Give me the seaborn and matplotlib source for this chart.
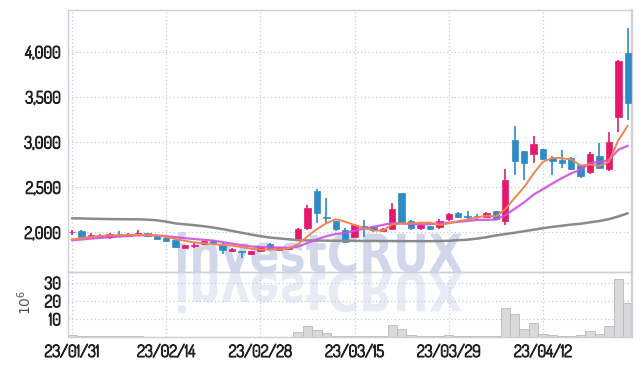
import numpy as np
import matplotlib
matplotlib.use("Agg")
import matplotlib.pyplot as plt
import matplotlib.patheffects as pe
import seaborn as sns
from matplotlib.textpath import TextPath
from matplotlib.patches import PathPatch
from matplotlib.font_manager import FontProperties, fontManager
from matplotlib.transforms import Affine2D
from matplotlib.ticker import FuncFormatter

# ---- data ----
tick_pos = [0, 10, 20, 30, 40, 50]
tick_labels = ["23/01/31", "23/02/14", "23/02/28", "23/03/15", "23/03/29", "23/04/12"]

opens = [1998, 2015, 1952, 1975, 1950, 1982, 1960, 1965, 1988, 1960,
         1942, 1910, 1828, 1850, 1865, 1905, 1875, 1788, 1795, 1755,
         1790, 1872, 1800, 1815, 1915, 2045, 2452, 2172, 2120, 2020,
         1950, 2075, 2060, 2010, 2040, 2430, 2130, 2050, 2070, 2055,
         2145, 2215, 2180, 2185, 2170, 2235, 2130, 3020, 2900, 2865,
         2920, 2825, 2800, 2820, 2745, 2670, 2845, 2700, 3280, 3990]
highs = [2030, 2022, 1990, 1980, 1990, 2018, 1992, 2028, 1990, 1965,
         1945, 1925, 1860, 1880, 1905, 1910, 1880, 1822, 1796, 1792,
         1842, 1880, 1840, 1838, 2052, 2305, 2478, 2385, 2125, 2045,
         2090, 2133, 2065, 2045, 2325, 2432, 2135, 2100, 2075, 2150,
         2215, 2220, 2232, 2200, 2220, 2240, 2700, 3175, 2905, 3065,
         2925, 2840, 2910, 2838, 2750, 2893, 2990, 3115, 3905, 4265]
lows = [1968, 1940, 1935, 1945, 1925, 1945, 1950, 1960, 1955, 1922,
        1888, 1830, 1822, 1830, 1860, 1870, 1758, 1782, 1720, 1748,
        1785, 1800, 1795, 1810, 1900, 2022, 2105, 2103, 2010, 1890,
        1945, 1950, 2000, 2000, 2030, 2100, 2030, 2020, 2025, 2040,
        2130, 2160, 2150, 2135, 2165, 2140, 2080, 2635, 2580, 2765,
        2800, 2635, 2710, 2690, 2598, 2645, 2700, 2680, 3115, 3240]
closes = [2003, 1943, 1975, 1952, 1982, 1955, 1985, 1988, 1962, 1928,
          1900, 1840, 1856, 1858, 1898, 1877, 1808, 1818, 1782, 1788,
          1836, 1810, 1832, 1830, 2040, 2270, 2215, 2162, 2035, 1895,
          2085, 2045, 2025, 2040, 2260, 2115, 2045, 2080, 2040, 2125,
          2200, 2170, 2165, 2172, 2213, 2152, 2575, 2785, 2765, 2975,
          2810, 2785, 2765, 2700, 2625, 2870, 2710, 2995, 3900, 3430]

# volume in millions of shares
volume = [1.2, 0.3, 0.3, 0.3, 0.3, 0.3, 0.3, 0.3, 0.1, 0.1,
          0.1, 0.1, 0.1, 0.1, 0.1, 0.1, 0.1, 0.1, 0.1, 0.1,
          0.1, 0.1, 0.1, 0.1, 2.5, 6.2, 4.0, 2.0, 0.5, 0.4,
          0.4, 0.3, 0.3, 0.3, 6.4, 4.2, 0.9, 0.4, 0.3, 0.3,
          0.9, 0.4, 0.3, 0.3, 0.3, 0.4, 16.2, 12.6, 4.2, 7.7,
          1.6, 0.9, 0.8, 0.8, 0.9, 3.3, 1.6, 6.0, 32.0, 19.0]

ma5 = [1920, 1935, 1950, 1958, 1968, 1965, 1970, 1972, 1972, 1963,
       1950, 1925, 1905, 1888, 1878, 1868, 1860, 1852, 1836, 1818,
       1808, 1808, 1810, 1820, 1868, 1955, 2035, 2100, 2145, 2117,
       2080, 2045, 2020, 2018, 2088, 2097, 2098, 2106, 2108, 2082,
       2098, 2123, 2140, 2165, 2184, 2175, 2255, 2380, 2500, 2650,
       2782, 2824, 2820, 2807, 2740, 2750, 2735, 2780, 3020, 3180]
ma10 = [1912, 1920, 1930, 1938, 1945, 1952, 1960, 1966, 1968, 1965,
        1957, 1946, 1934, 1925, 1916, 1908, 1891, 1874, 1857, 1843,
        1836, 1833, 1830, 1828, 1842, 1881, 1922, 1956, 1981, 1992,
        2017, 2041, 2060, 2081, 2103, 2098, 2090, 2088, 2090, 2098,
        2106, 2115, 2126, 2136, 2138, 2140, 2189, 2260, 2332, 2417,
        2478, 2540, 2600, 2653, 2694, 2766, 2779, 2800, 2914, 2959]
ma_long = [2155, 2153, 2150, 2148, 2146, 2145, 2144, 2143, 2140, 2133,
           2118, 2098, 2088, 2078, 2067, 2052, 2035, 2015, 1995, 1975,
           1957, 1942, 1932, 1922, 1913, 1910, 1908, 1907, 1906, 1905,
           1905, 1904, 1904, 1903, 1903, 1902, 1902, 1902, 1902, 1903,
           1906, 1912, 1918, 1930, 1945, 1965, 1980, 1995, 2012, 2028,
           2045, 2060, 2072, 2085, 2095, 2110, 2125, 2145, 2175, 2210]

# ---- style ----
sns.set_theme(style="white")
names = {f.name for f in fontManager.ttflist}
tick_font = next((f for f in ["Dosis", "Abel", "Liberation Sans Narrow"] if f in names),
                 "DejaVu Sans")
plt.rcParams["font.family"] = [tick_font, "DejaVu Sans"]

UP = "#e5196b"
DOWN = "#2e8bc6"
GRID = "#c6cadc"
SPINE = "#cfd0d6"
TXT = "#222222"

idx = np.arange(len(closes))
o = np.array(opens)
c = np.array(closes)
colors = [UP if cc >= oo else DOWN for oo, cc in zip(o, c)]

fig = plt.figure(figsize=(6.42, 3.66), dpi=100)
fig.patch.set_facecolor("white")
ax = fig.add_axes([68 / 642, 1 - 272 / 366, 564 / 642, 262 / 366])
axv = fig.add_axes([68 / 642, 1 - 337 / 366, 564 / 642, 65 / 366], sharex=ax)

# watermark with reflection
tp = TextPath((0, 0), "investCRUX", size=100,
              prop=FontProperties(family="DejaVu Sans", weight="bold"))
bb = tp.get_extents()
sx = (462 - 178) / bb.width
sy = 40 / bb.ymax
base = 366 - 272
for flip, alpha in [(1, 0.8), (-1, 0.4)]:
    tr = (Affine2D().translate(-bb.x0, 0).scale(sx / 100, flip * sy / 100)
          .translate(178 / 100, (base - (1 if flip < 0 else 0)) / 100)
          + fig.dpi_scale_trans)
    fig.add_artist(PathPatch(tp, transform=tr, facecolor="#c6cce6",
                             edgecolor="none", alpha=alpha, zorder=-1))

for a in (ax, axv):
    a.set_facecolor("none")

# candles
ax.vlines(idx, lows, highs, colors=colors, lw=1.2, zorder=2)
body_bottom = np.minimum(o, c)
body_h = np.maximum(np.abs(c - o), 8)
ax.bar(idx, body_h, bottom=body_bottom, width=0.68, color=colors,
       edgecolor=colors, linewidth=0.5, zorder=3)

# moving averages
sns.lineplot(x=idx, y=ma_long, ax=ax, color="#8a8a8a", lw=1.8, zorder=4)
sns.lineplot(x=idx, y=ma10, ax=ax, color="#cf4fe3", lw=1.6, alpha=0.9, zorder=5)
sns.lineplot(x=idx, y=ma5, ax=ax, color="#ef8550", lw=1.4, zorder=6)

# volume
axv.bar(idx, volume, width=1.0, color="#d9d9dc", edgecolor="#b8b8bc",
        linewidth=0.6, zorder=2)

# axes
ax.set_xlim(-0.42, 59.45)
ax.set_ylim(1560, 4462)
ax.set_yticks([2000, 2500, 3000, 3500, 4000])
ax.yaxis.set_major_formatter(FuncFormatter(lambda v, p: f"{int(v):,}"))
axv.set_ylim(0, 35.8)
axv.set_yticks([10, 20, 30])
axv.set_xticks(tick_pos)
axv.set_xticklabels(tick_labels)
ax.tick_params(axis="x", labelbottom=False, length=0)

bold = [pe.withStroke(linewidth=0.9, foreground=TXT)]
for a in (ax, axv):
    a.grid(True, color=GRID, linestyle=(0, (1, 2)), lw=0.9)
    a.tick_params(axis="both", length=0, pad=5, labelsize=12, labelcolor=TXT)
    for lab in a.get_xticklabels() + a.get_yticklabels():
        lab.set_path_effects(bold)
    for s in a.spines.values():
        s.set_color(SPINE)
        s.set_linewidth(1.0)
    a.spines["right"].set_linewidth(1.6)
    a.set_xlabel("")

axv.set_ylabel("$10^6$", fontsize=10, color="#555555", rotation=90)
axv.yaxis.set_label_coords(-0.06, 0.54)

fig.savefig("out.png", dpi=100)
